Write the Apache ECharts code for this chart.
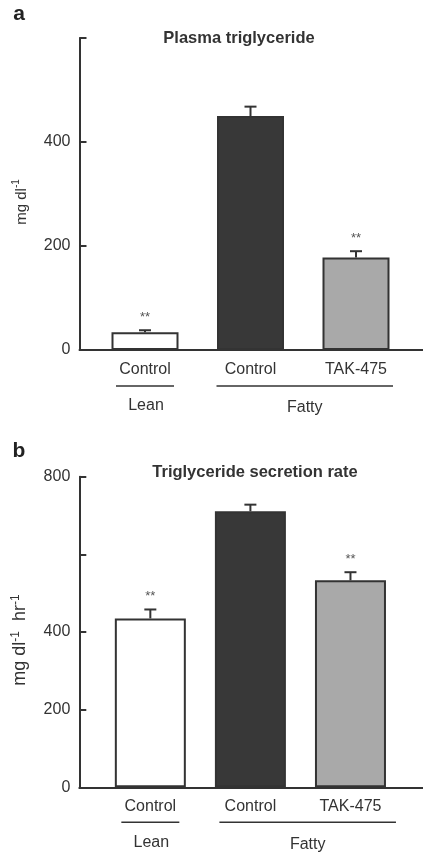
<!DOCTYPE html>
<html><head><meta charset="utf-8">
<script src="https://cdn.jsdelivr.net/npm/echarts@6/dist/echarts.min.js"></script>
<style>html,body{margin:0;padding:0;background:#fff}#c{width:423px;height:854px}</style>
</head><body><div id="c"></div>
<script>
// ---- data ----
const categories = ['Lean Control', 'Fatty Control', 'Fatty TAK-475'];
const categoryLabels = ['Control', 'Control', 'TAK-475'];
const groupLabels = ['Lean', 'Fatty'];
const panelLetters = ['a', 'b'];
const panelTitles = ['Plasma triglyceride', 'Triglyceride secretion rate'];

const plasmaTG = [34, 450, 178];
const plasmaTGErr = [4, 18, 12];
const plasmaSig = ['**', '', '**'];

const secretionRate = [435, 711, 533];
const secretionErr = [23, 17, 21];
const secretionSig = ['**', '', '**'];

const yTickValuesA = [0, 200, 400, 600];
const yTickTextA = ['0', '200', '400', ''];
const yTickValuesB = [0, 200, 400, 600, 800];
const yTickTextB = ['0', '200', '400', '', '800'];

// ---- styling ----
const FONT = '"Liberation Sans", Arial, Helvetica, sans-serif';
const INK = '#333';
const fills = ['#ffffff', '#383838', '#a9a9a9'];

const chart = echarts.init(document.getElementById('c'), null, {renderer: 'canvas'});

function yAx(gridIndex, max, offset, vals, texts, nameRich, pad) {
  return {
    type: 'value', gridIndex, min: 0, max, interval: 200, offset,
    axisLine: {show: true, lineStyle: {color: INK, width: 2}},
    axisTick: {show: true, inside: true, length: 7, lineStyle: {color: INK, width: 2}},
    axisLabel: {color: INK, fontSize: 16, fontFamily: FONT, margin: 9,
      formatter: v => { const k = vals.indexOf(v); return k >= 0 ? texts[k] : ''; }},
    splitLine: {show: false},
    name: nameRich.text, nameLocation: 'middle', nameRotate: 90, nameGap: 50,
    nameTextStyle: {color: INK, fontFamily: FONT, rich: nameRich.rich, padding: pad}
  };
}
function lineAx(gridIndex) {
  return {type: 'value', gridIndex, min: 0, max: 1,
    axisLine: {show: true, lineStyle: {color: INK, width: 2}},
    axisTick: {show: false}, axisLabel: {show: false}, splitLine: {show: false}};
}
function catAx(gridIndex, margin) {
  return {type: 'category', gridIndex, data: categories,
    axisLine: {show: false}, axisTick: {show: false},
    axisLabel: {color: INK, fontSize: 16, fontFamily: FONT, margin,
      formatter: (v, i) => categoryLabels[i]}};
}
function barSeries(axisIndex, vals, width) {
  return {type: 'bar', xAxisIndex: axisIndex, yAxisIndex: axisIndex, barWidth: width,
    data: vals.map((v, i) => ({value: v, itemStyle: {color: fills[i]}})),
    itemStyle: {borderColor: INK, borderWidth: 2}, z: 3, silent: true};
}
function errSeries(axisIndex, vals, errs, sig) {
  return {
    type: 'custom', xAxisIndex: axisIndex, yAxisIndex: axisIndex, z: 5, silent: true,
    encode: {x: 0, y: [1, 2]},
    data: vals.map((v, i) => [i, v, v + errs[i]]),
    renderItem(params, api) {
      const x = api.value(0);
      const base = api.coord([x, api.value(1)]);
      const top = api.coord([x, api.value(2)]);
      const ch = [
        {type: 'line', shape: {x1: base[0], y1: base[1], x2: top[0], y2: top[1]}, style: {stroke: INK, lineWidth: 2}},
        {type: 'line', shape: {x1: top[0] - 6, y1: top[1], x2: top[0] + 6, y2: top[1]}, style: {stroke: INK, lineWidth: 2}}
      ];
      const s = sig[params.dataIndex];
      if (s) ch.push({type: 'text', x: top[0], y: top[1] - 13,
        style: {text: s, align: 'center', verticalAlign: 'middle', fill: '#555', fontSize: 13, fontFamily: FONT}});
      return {type: 'group', children: ch};
    }
  };
}

const richA = {text: '{n|mg dl}{s|-1}', rich: {n: {fontSize: 15, lineHeight: 18, verticalAlign: 'bottom', fontFamily: FONT, color: INK}, s: {fontSize: 10, lineHeight: 10, verticalAlign: 'top', fontFamily: FONT, color: INK}}};
const richB = {text: '{n|mg dl}{s|-1}{n|  hr}{s|-1}', rich: {n: {fontSize: 18, lineHeight: 20, verticalAlign: 'bottom', fontFamily: FONT, color: INK}, s: {fontSize: 12, lineHeight: 12, verticalAlign: 'top', fontFamily: FONT, color: INK}}};

const option = {
  animation: false,
  grid: [
    {left: 92.25, right: 14.25, top: 38, bottom: 504},
    {left: 79.5, right: 0, top: 38, bottom: 504},
    {left: 100.3, right: 22.5, top: 476.7, bottom: 66.7},
    {left: 79.3, right: 0, top: 476.7, bottom: 66.7}
  ],
  xAxis: [catAx(0, 12), lineAx(1), catAx(2, 11), lineAx(3)],
  yAxis: [
    yAx(0, 600, 12.75, yTickValuesA, yTickTextA, richA, [0, 16, 0, 0]),
    {type: 'value', gridIndex: 1, show: false, min: 0, max: 1},
    yAx(2, 800, 21, yTickValuesB, yTickTextB, richB, [0, 16, 0, 0]),
    {type: 'value', gridIndex: 3, show: false, min: 0, max: 1}
  ],
  series: [
    barSeries(0, plasmaTG, 67), errSeries(0, plasmaTG, plasmaTGErr, plasmaSig),
    barSeries(2, secretionRate, 71), errSeries(2, secretionRate, secretionErr, secretionSig)
  ]
};
chart.setOption(option);

function decor(gridIndex, letterY, titleX, titleY, leanHalf, fattyStart, fattyEnd, lineDy, groupDy) {
  const p = i => chart.convertToPixel({gridIndex}, [i, 0]);
  const c0 = p(0), c1 = p(1), c2 = p(2);
  const base = c0[1];
  const ly = base + lineDy, gy = base + groupDy;
  const fx1 = c1[0] + fattyStart, fx2 = c2[0] + fattyEnd;
  const k = gridIndex === 0 ? 0 : 1;
  const txt = (x, y, t, extra) => ({type: 'text', x, y,
    style: Object.assign({text: t, align: 'center', verticalAlign: 'middle', fill: INK, fontSize: 16, fontFamily: FONT}, extra || {})});
  return [
    {type: 'line', shape: {x1: c0[0] - leanHalf, y1: ly, x2: c0[0] + leanHalf, y2: ly}, style: {stroke: INK, lineWidth: 1.5}},
    {type: 'line', shape: {x1: fx1, y1: ly, x2: fx2, y2: ly}, style: {stroke: INK, lineWidth: 1.5}},
    txt(c0[0] + 1, gy, groupLabels[0]),
    txt((fx1 + fx2) / 2, gy + 2, groupLabels[1]),
    txt(19, letterY, panelLetters[k], {fontSize: 21, fontWeight: 'bold', fill: '#222'}),
    txt(titleX, titleY, panelTitles[k], {fontSize: 16.5, fontWeight: 'bold'})
  ];
}
chart.setOption({graphic: {elements: [
  ...decor(0, 14, 239, 38, 29, -34, 37, 36, 56),
  ...decor(2, 451.7, 255, 472.7, 29, -31, 45.5, 35, 55)
]}});
</script>
</body></html>
